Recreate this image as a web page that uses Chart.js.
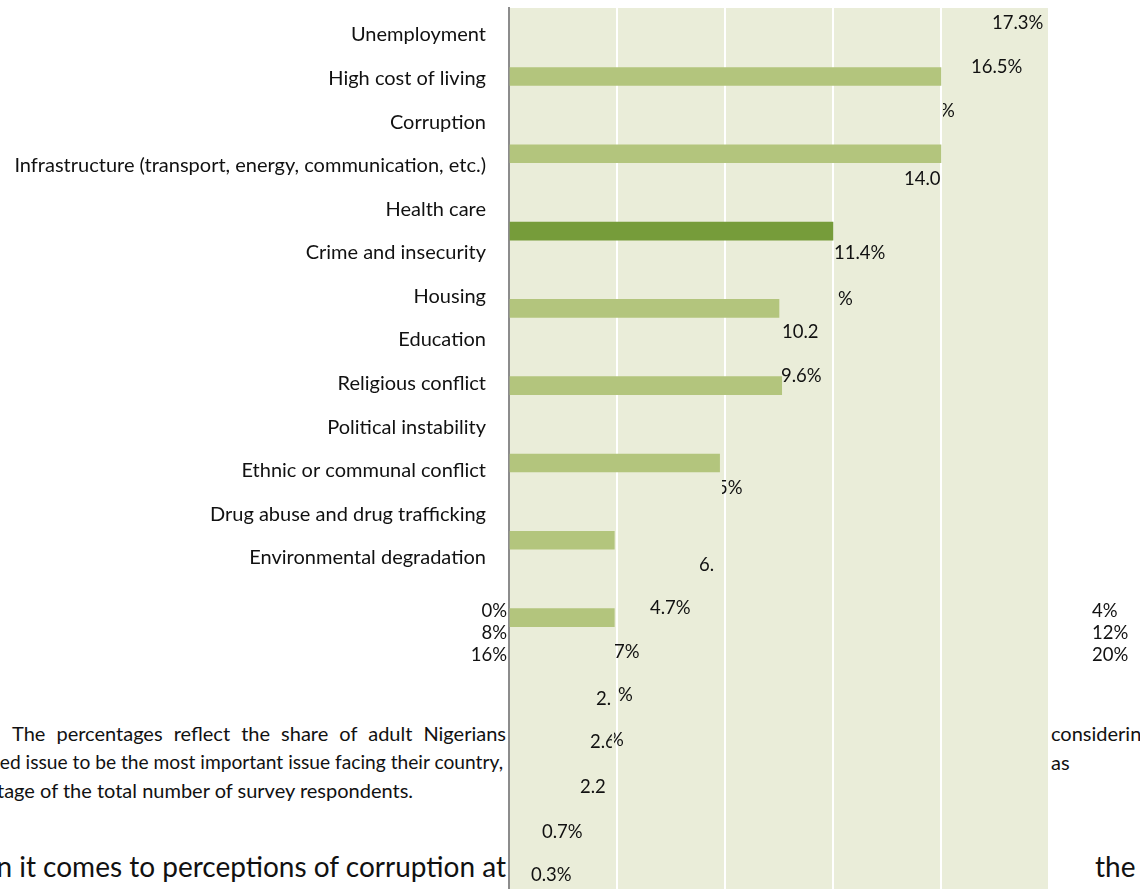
<!DOCTYPE html>
<html>
<head>
<meta charset="utf-8">
<script src="https://cdn.jsdelivr.net/npm/chart.js@4.4.1/dist/chart.umd.min.js"></script>
<style>
  html, body { margin: 0; padding: 0; background: #fff; }
  #page { position: relative; width: 1140px; height: 889px; overflow: hidden; font-family: Lato, "Open Sans", sans-serif; color: #111; }
  #under, #over { position: absolute; left: 0; top: 0; width: 1140px; height: 889px; }
  #under { z-index: 0; }
  #chartWrap { position: absolute; left: 0; top: 0; width: 1140px; height: 889px; z-index: 1; }
  #over { z-index: 2; pointer-events: none; }
  .t { position: absolute; white-space: nowrap; font-size: 18.5px; line-height: 22px; }
  .p { font-size: 20px; }
  .p2 { font-size: 19.2px; }
  .big { font-size: 28px; line-height: 30px; }
  .just { text-align: justify; text-align-last: justify; }
</style>
</head>
<body>
<div id="page">
  <div id="under">
    <div class="t p just" style="left:12px; top:722px; width:494px;">The percentages reflect the share of adult Nigerians</div>
    <div class="t p" style="left:1051px; top:722px;">considering</div>
    <div class="t p2" style="right:637px; top:751px;">ed issue to be the most important issue facing their country,</div>
    <div class="t p" style="left:1051px; top:751px;">as</div>
    <div class="t p" style="left:-3px; top:779px;">tage of the total number of survey respondents.</div>
    <div class="t big" style="right:634px; top:851px;">n it comes to perceptions of corruption at</div>
    <div class="t big" style="left:1095px; top:851px;">the</div>
  </div>
  <div id="chartWrap"><canvas id="c" width="1140" height="889"></canvas></div>
  <div id="over"></div>
</div>
<script>
// ---- data ----
const categories = [
  'Unemployment',
  'High cost of living',
  'Corruption',
  'Infrastructure (transport, energy, communication, etc.)',
  'Health care',
  'Crime and insecurity',
  'Housing',
  'Education',
  'Religious conflict',
  'Political instability',
  'Ethnic or communal conflict',
  'Drug abuse and drug trafficking',
  'Environmental degradation'
];
const barValues = [16.0, 16.0, 12.0, 10.0, 10.1, 7.8, 3.9, 3.9];
const highlightBar = 2;
const xTickValues = [0, 4, 8, 12, 16, 20];
const xTickLabelsLeft = ['0%', '8%', '16%'];
const xTickLabelsRight = ['4%', '12%', '20%'];
const valueLabels = ['17.3%', '16.5%', '%', '14.0', '11.4%', '%', '10.2', '9.6%', '5%', '6.', '4.7%', '7%', '2.', '%', '2.6', '%', '2.2', '0.7%', '0.3%'];

// ---- text layout (positions only) ----
const valueLabelLayout = [
  {l: 992, cy: 22}, {l: 971, cy: 66}, {l: 940, cy: 110, clipL: 3}, {l: 904, cy: 178},
  {l: 834, cy: 252}, {l: 838, cy: 298}, {l: 782, cy: 331}, {l: 781, cy: 375},
  {l: 717, cy: 487, clipL: 5}, {l: 699, cy: 564}, {l: 650, cy: 607}, {l: 614, cy: 651},
  {l: 596, cy: 698}, {l: 618, cy: 694}, {l: 590, cy: 741, clipR: 4}, {l: 609, cy: 739, clipL: 5},
  {l: 580, cy: 786}, {l: 542, cy: 831}, {l: 531, cy: 874}
];
const over = document.getElementById('over');
valueLabels.forEach((txt, i) => {
  const p = valueLabelLayout[i];
  const d = document.createElement('div');
  d.className = 't';
  d.textContent = txt;
  d.style.left = p.l + 'px';
  d.style.top = (p.cy - 11) + 'px';
  if (p.clipL || p.clipR) d.style.clipPath = `inset(0 ${p.clipR || 0}px 0 ${p.clipL || 0}px)`;
  over.appendChild(d);
});
xTickLabelsLeft.forEach((txt, i) => {
  const d = document.createElement('div');
  d.className = 't';
  d.textContent = txt;
  d.style.right = (1140 - 507) + 'px';
  d.style.top = (610 + i * 22 - 11) + 'px';
  over.appendChild(d);
});
xTickLabelsRight.forEach((txt, i) => {
  const d = document.createElement('div');
  d.className = 't';
  d.textContent = txt;
  d.style.left = '1092px';
  d.style.top = (610 + i * 22 - 11) + 'px';
  over.appendChild(d);
});

// ---- chart ----
const plotBg = {
  id: 'plotBg',
  beforeDraw(chart) {
    const a = chart.chartArea, ctx = chart.ctx;
    ctx.save();
    ctx.fillStyle = '#EAEDD9';
    ctx.fillRect(a.left, a.top, a.right - a.left, a.bottom - a.top);
    ctx.restore();
  }
};

function build() {
  new Chart(document.getElementById('c'), {
    type: 'bar',
    data: {
      datasets: [{
        data: barValues.map((v, i) => ({x: v, y: i})),
        backgroundColor: barValues.map((v, i) => i === highlightBar ? '#769C3A' : '#B3C57D'),
        borderWidth: 0,
        barThickness: 18,
        xAxisID: 'x',
        yAxisID: 'yb'
      }]
    },
    options: {
      indexAxis: 'y',
      responsive: false,
      animation: false,
      devicePixelRatio: 1,
      layout: {padding: {top: 8, right: 91, bottom: 0, left: 0}},
      plugins: {legend: {display: false}, tooltip: {enabled: false}},
      scales: {
        x: {
          type: 'linear', position: 'bottom', min: 0, max: 20, offset: false,
          afterBuildTicks: s => { s.ticks = xTickValues.map(v => ({value: v})); },
          ticks: {display: false},
          border: {display: false},
          grid: {color: c => (c.tick && c.tick.value === 0) ? 'rgba(0,0,0,0)' : '#FFFFFF', lineWidth: 2, drawTicks: false, offset: false},
          afterFit: s => { s.height = 0; s.paddingLeft = 0; s.paddingRight = 0; }
        },
        yb: {
          type: 'linear', display: false, reverse: true, min: -0.886, max: 10.511,
          offset: false, grid: {offset: false}
        },
        yl: {
          type: 'linear', position: 'left', reverse: true, min: -0.6195, max: 19.597,
          offset: false,
          afterBuildTicks: s => { s.ticks = categories.map((c, i) => ({value: i})); },
          ticks: {
            autoSkip: false, padding: 23, color: '#111',
            font: {family: 'Lato', size: 20},
            callback: v => categories[v]
          },
          grid: {display: false, drawTicks: false, offset: false},
          border: {display: true, color: '#8C8C8C', width: 2},
          afterFit: s => { s.width = 509; s.paddingTop = 0; s.paddingBottom = 0; }
        }
      }
    },
    plugins: [plotBg]
  });
}
if (document.fonts && document.fonts.load) {
  Promise.all([document.fonts.load('20px Lato'), document.fonts.load('28px Lato')]).then(build, build);
} else { build(); }
</script>
</body>
</html>
